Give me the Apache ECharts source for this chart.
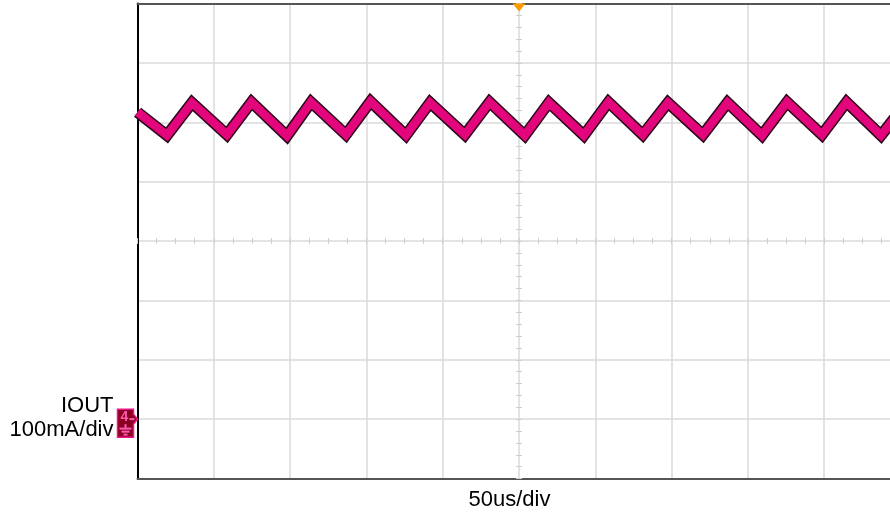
<!DOCTYPE html>
<html><head><meta charset="utf-8">
<script src="https://cdn.jsdelivr.net/npm/echarts@6/dist/echarts.min.js"></script>
<style>html,body{margin:0;padding:0;background:#fff}#c{width:890px;height:515px}</style>
</head><body><div id="c"></div>
<script>
// Oscilloscope capture: IOUT ripple (peaks / troughs)
const timeUs = [0, 19.3, 35.7, 58.6, 74.7, 97.9, 113.7, 136.6, 152.7, 175.9, 191.7, 214.5, 230.7, 253.8, 269.6, 292.5, 308.6, 331.1, 347.6, 370.5, 386.6, 409.2, 425.6, 448.5, 464.6, 487.2, 500];
const ioutMa = [517, 478, 533, 479, 534, 477, 534, 479, 535, 478, 533, 479, 534, 478, 533, 478, 534, 479, 533, 479, 533, 478, 534, 479, 534, 478, 520];
// screen shows 10 x 50us, cropped at the right edge (~493us visible)
const timeAxis = {min: 0, max: 493.1, interval: 50};
const currentAxis = {min: -100, max: 700, interval: 100};
const channelName = 'IOUT';
const channelScale = '100mA/div';
const timeScale = '50us/div';
const triggerTimeUs = 250;

const FONT = '"Liberation Sans", Arial, sans-serif';
const chart = echarts.init(document.getElementById('c'), null, {renderer: 'canvas'});
const pts = timeUs.map((t, i) => [t, ioutMa[i]]);
const gridLine = {show: true, showMaxLine: false, lineStyle: {color: '#dadada', width: 1.5}};
const tickStyle = {color: '#cfcfcf', width: 1};
const xBase = {type: 'value', min: timeAxis.min, max: timeAxis.max, interval: timeAxis.interval, axisLabel: {show: false}};
const yBase = {type: 'value', min: currentAxis.min, max: currentAxis.max, interval: currentAxis.interval, axisLabel: {show: false}};

const option = {
  animation: false,
  backgroundColor: '#fff',
  grid: {left: 137.5, top: 3.5, right: 0, height: 475, show: false},
  xAxis: [
    Object.assign({}, xBase, {position: 'bottom', axisLine: {show: true, onZero: false, lineStyle: {color: '#555', width: 2}},
      axisTick: {show: false}, splitLine: gridLine}),
    Object.assign({}, xBase, {position: 'top', axisLine: {show: true, onZero: false, lineStyle: {color: '#555', width: 2}},
      axisTick: {show: false}, splitLine: {show: false}}),
    Object.assign({}, xBase, {position: 'bottom', offset: -234.5,
      axisLine: {show: false, onZero: false}, axisTick: {show: true, inside: true, length: 6, lineStyle: tickStyle},
      minorTick: {show: true, splitNumber: 4, length: 6, lineStyle: tickStyle}, splitLine: {show: false}})
  ],
  yAxis: [
    Object.assign({}, yBase, {position: 'left', axisLine: {show: true, onZero: false, lineStyle: {color: '#000', width: 2}},
      axisTick: {show: false}, splitLine: {show: true, lineStyle: {color: '#dadada', width: 1.5}}}),
    Object.assign({}, yBase, {position: 'left', offset: -378.5,
      axisLine: {show: false, onZero: false}, axisTick: {show: true, inside: true, length: 6, lineStyle: tickStyle},
      minorTick: {show: true, splitNumber: 5, length: 6, lineStyle: tickStyle}, splitLine: {show: false}})
  ],
  series: [
    {type: 'line', name: channelName + '-edge', data: pts, xAxisIndex: 0, yAxisIndex: 0, symbol: 'none', silent: true,
     lineStyle: {color: '#2e0619', width: 11.5, join: 'miter'}, z: 3},
    {type: 'line', name: channelName, data: pts, xAxisIndex: 0, yAxisIndex: 0, symbol: 'none', silent: true,
     lineStyle: {color: '#e2057c', width: 8.5, join: 'miter'}, z: 4,
     markPoint: {silent: true, symbol: 'triangle', symbolRotate: 180, symbolSize: [13, 8], symbolOffset: [0, 4],
       itemStyle: {color: '#ff9a00'}, label: {show: false},
       data: [{coord: [triggerTimeUs, currentAxis.max]}]}}
  ]
};
chart.setOption(option);

const [gx, gy] = chart.convertToPixel({gridIndex: 0}, [0, 0]);
const glyph = '#ff5aae';
chart.setOption({
  graphic: [
    {type: 'text', x: gx - 24, y: gy - 13.5, style: {text: channelName, font: '22px ' + FONT, fill: '#000', align: 'right', verticalAlign: 'middle'}},
    {type: 'text', x: gx - 24, y: gy + 10.5, style: {text: channelScale, font: '22px ' + FONT, fill: '#000', align: 'right', verticalAlign: 'middle'}},
    {type: 'text', x: 509.5, y: 499.5, style: {text: timeScale, font: '22px ' + FONT, fill: '#000', align: 'center', verticalAlign: 'middle'}},
    {type: 'polygon', z: 100, shape: {points: [[gx - 20, gy - 10], [gx - 4, gy - 10], [gx - 4, gy - 5], [gx, gy], [gx - 4, gy + 5], [gx - 4, gy + 18], [gx - 20, gy + 18]]},
     style: {fill: '#8a0022', stroke: '#ee1485', lineWidth: 1.5}},
    {type: 'text', z: 101, x: gx - 13, y: gy - 1.5, style: {text: '4', font: 'bold 14px ' + FONT, fill: glyph, align: 'center', verticalAlign: 'middle'}},
    {type: 'line', z: 101, shape: {x1: gx - 8, y1: gy, x2: gx - 3, y2: gy}, style: {stroke: glyph, lineWidth: 2}},
    {type: 'line', z: 101, shape: {x1: gx - 12, y1: gy + 5, x2: gx - 12, y2: gy + 9}, style: {stroke: glyph, lineWidth: 2}},
    {type: 'line', z: 101, shape: {x1: gx - 18, y1: gy + 9.5, x2: gx - 6, y2: gy + 9.5}, style: {stroke: glyph, lineWidth: 2}},
    {type: 'line', z: 101, shape: {x1: gx - 16, y1: gy + 12.5, x2: gx - 8, y2: gy + 12.5}, style: {stroke: glyph, lineWidth: 2}},
    {type: 'line', z: 101, shape: {x1: gx - 14, y1: gy + 15.5, x2: gx - 10, y2: gy + 15.5}, style: {stroke: glyph, lineWidth: 2}}
  ]
});
</script>
</body></html>
